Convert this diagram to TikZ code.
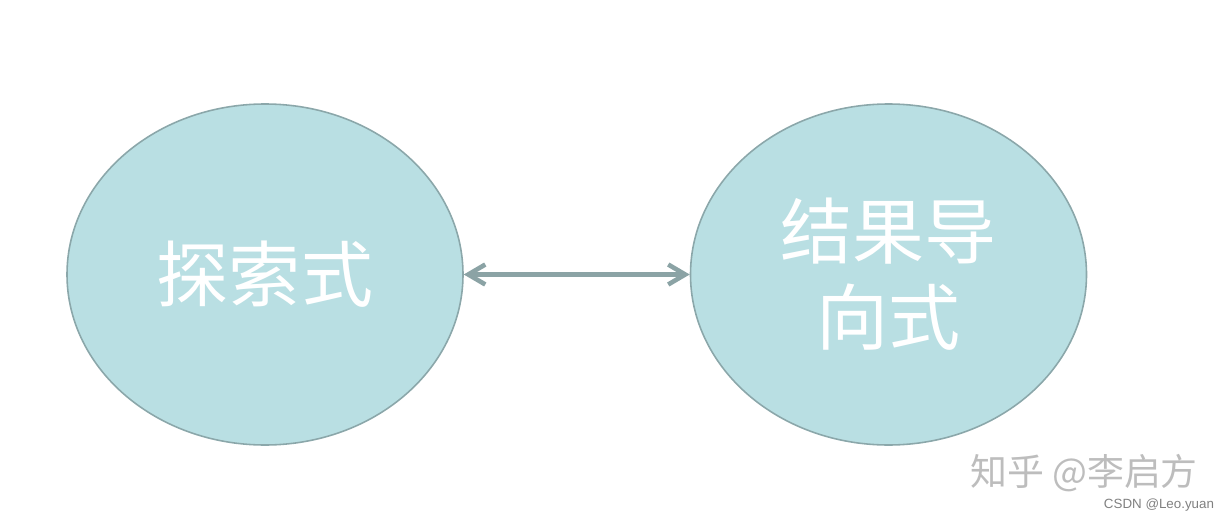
\documentclass[tikz,border=0pt]{standalone}
\usepackage{fontspec}
\setmainfont{Liberation Sans}
\newfontfamily\cjk{Noto Sans CJK SC}
\usetikzlibrary{shapes.geometric,arrows.meta}

\definecolor{bubblefill}{HTML}{B9DFE3}
\definecolor{bubbleline}{HTML}{8BA7AA}
\definecolor{linkgray}{HTML}{8BA3A5}
\definecolor{markgray}{HTML}{BDBDBD}

\begin{document}
\begin{tikzpicture}[>={Straight Barb[length=3.4mm,width=4mm]},
    bubble/.style={ellipse, draw=bubbleline, fill=bubblefill, line width=0.9pt,
        minimum width=7.92cm, minimum height=6.82cm, inner sep=0pt,
        text=white, align=center, font=\cjk\fontsize{41}{49}\selectfont},
    link/.style={<->, draw=linkgray, line width=2.6pt},
    watermark/.style={text=markgray, inner sep=0pt}]

    % 0. Marco (proporciones de la imagen)
    \useasboundingbox (0, 0) rectangle (24.56, 10.44);

    % 1. Elipse izquierda
    \node[bubble] (explore) at (5.30, 4.95) {探索式};

    % 2. Elipse derecha
    \node[bubble] (result) at (17.77, 4.95) {结果导\\向式};

    % 3. Flecha doble entre las dos
    \draw[link] (explore) -- (result);

    % 4. Marcas de agua
    \node[watermark, font=\cjk\fontsize{21}{25}\selectfont] (zhihu) at (21.68, 0.98) {知乎 @李启方};
    \node[watermark, font=\fontsize{7.6}{9}\selectfont, text=gray] (csdn) at (23.18, 0.34) {CSDN @Leo.yuan};

\end{tikzpicture}
\end{document}
